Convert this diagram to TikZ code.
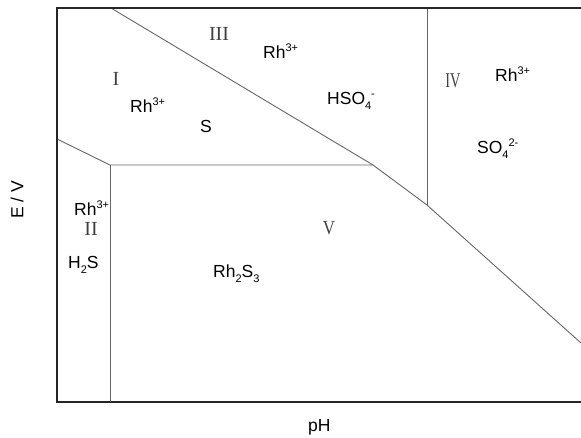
\documentclass[tikz,border=0pt]{standalone}
\usepackage{fontspec}
\setmainfont{Liberation Sans}
\newfontfamily\romfont{Liberation Serif}
\newcommand{\subs}[1]{\raisebox{-5pt}{\fontsize{11}{11}\selectfont #1}}
\newcommand{\sups}[1]{\raisebox{7pt}{\fontsize{11}{11}\selectfont #1}}
\tikzset{
  frameline/.style={line width=1.6pt, draw=black!85},
  bound/.style={line width=0.9pt, draw=black!60},
  lbl/.style={inner sep=0pt, anchor=base west, font=\fontsize{17.5}{18}\selectfont},
  rom/.style={inner sep=0pt, anchor=center, font=\romfont\fontsize{20}{20}\selectfont, text=black!75}
}
\begin{document}
\begin{tikzpicture}[x=1pt,y=-1pt]
\useasboundingbox (0,0) rectangle (581,437);
\clip (0,0) rectangle (581,437);
% key points
\coordinate (tl) at (57,8);
\coordinate (tr) at (590,8);
\coordinate (bl) at (57,402);
\coordinate (br) at (590,402);
\coordinate (dtop) at (111,8);
\coordinate (kink) at (373,165);
\coordinate (vfoot) at (427,205);
\coordinate (vtop) at (427,8);
\coordinate (dend) at (581,343);
\coordinate (lleft) at (57,139);
\coordinate (corner) at (110,165);
\coordinate (vbot) at (110,402);
% boundaries
\draw[bound] (dtop) -- (kink) -- (vfoot) -- (dend);
\draw[bound] (vtop) -- (vfoot);
\draw[bound] (lleft) -- (corner) -- (kink);
\draw[bound] (corner) -- (vbot);
% frame
\draw[frameline] (tr) -- (tl) -- (bl) -- (br);
% region numerals
\node[rom] (nIII) at (219,34) {III};
\node[rom] (nI) at (116,79) {I};
\node[rom] (nIV) at (453,81) {\scalebox{0.72}[1.05]{IV}};
\node[rom] (nV) at (329,228) {\scalebox{0.85}[1]{V}};
\node[rom] (nII) at (91,229) {II};
% species
\node[lbl] (rh3) at (263,58) {Rh\sups{3+}};
\node[lbl] (rh1) at (130,112) {Rh\sups{3+}};
\node[lbl] (s1) at (200,132) {S};
\node[lbl] (hso) at (327,104) {HSO\subs{4}\sups{-}};
\node[lbl] (rh4) at (495,81) {Rh\sups{3+}};
\node[lbl] (so4) at (477,153) {SO\subs{4}\sups{2-}};
\node[lbl] (rh2) at (74,215) {Rh\sups{3+}};
\node[lbl] (h2s) at (68,268) {H\subs{2}S};
\node[lbl] (rh2s3) at (213,277) {Rh\subs{2}S\subs{3}};
% redraw the vertical boundary over Rh3+ of region II
\draw[bound] (corner) -- (vbot);
% axis labels
\node[lbl] (ph) at (308,431) {pH};
\node[inner sep=0pt, rotate=90, font=\fontsize{17.5}{18}\selectfont] (ev) at (17,200) {E / V};
\end{tikzpicture}
\end{document}
